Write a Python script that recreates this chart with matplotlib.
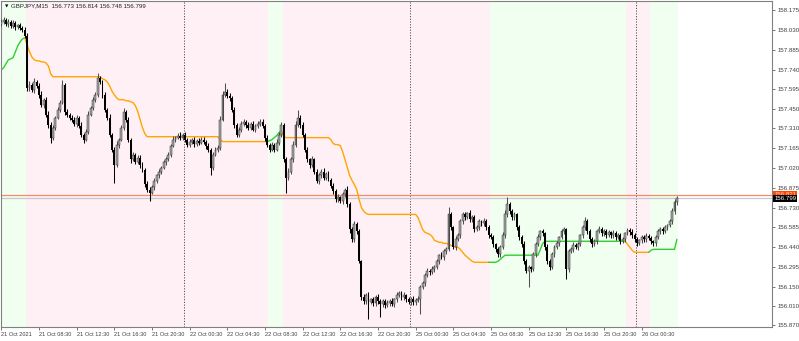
import numpy as np
import matplotlib.pyplot as plt
from matplotlib import transforms

# --- data (GBPJPY M15, 21 Oct 04:30 .. 26 Oct 04:15) ---
symbol = "GBPJPY,M15"
first_open = 158.075
closes = [
    158.090, 158.104, 158.075, 158.090, 158.060, 158.082, 158.053, 158.068, 158.046, 158.031,
    157.987, 157.607, 157.629, 157.593, 157.651, 157.622, 157.556, 157.483, 157.520, 157.410,
    157.337, 157.242, 157.315, 157.389, 157.447, 157.498, 157.629, 157.432, 157.410, 157.389,
    157.374, 157.345, 157.389, 157.330, 157.264, 157.228, 157.286, 157.410, 157.462, 157.520,
    157.556, 157.680, 157.651, 157.556, 157.447, 157.389, 157.264, 157.155, 157.045, 157.191,
    157.228, 157.315, 157.432, 157.374, 157.228, 157.082, 157.118, 157.067, 157.096, 157.045,
    157.008, 156.899, 156.862, 156.840, 156.877, 156.921, 156.965, 156.994, 157.023, 157.060,
    157.082, 157.118, 157.184, 157.228, 157.242, 157.257, 157.242, 157.264, 157.228, 157.191,
    157.213, 157.228, 157.199, 157.220, 157.206, 157.228, 157.213, 157.184, 157.155, 157.023,
    157.118, 157.155, 157.169, 157.374, 157.556, 157.578, 157.549, 157.534, 157.447, 157.337,
    157.264, 157.301, 157.345, 157.359, 157.337, 157.315, 157.345, 157.301, 157.330, 157.345,
    157.359, 157.330, 157.242, 157.191, 157.155, 157.191, 157.155, 157.206, 157.264, 157.337,
    157.082, 156.950, 156.994, 157.082, 157.191, 157.337, 157.389, 157.337, 157.264, 157.155,
    157.082, 157.045, 157.082, 156.994, 156.921, 156.965, 156.994, 156.950, 156.979, 156.935,
    156.891, 156.848, 156.789, 156.804, 156.775, 156.826, 156.862, 156.753, 156.570, 156.497,
    156.607, 156.555, 156.337, 156.074, 156.045, 156.088, 156.037, 156.059, 156.030, 156.074,
    156.045, 156.022, 156.045, 156.015, 156.030, 156.045, 156.022, 156.059, 156.088, 156.103,
    156.074, 156.088, 156.059, 156.037, 156.059, 156.037, 156.052, 156.059, 156.147, 156.176,
    156.235, 156.264, 156.257, 156.278, 156.293, 156.337, 156.381, 156.366, 156.410, 156.424,
    156.680, 156.585, 156.439, 156.497, 156.526, 156.629, 156.680, 156.658, 156.687, 156.643,
    156.658, 156.570, 156.585, 156.629, 156.614, 156.629, 156.585, 156.526, 156.512, 156.461,
    156.424, 156.388, 156.439, 156.526, 156.680, 156.753, 156.702, 156.658, 156.680, 156.585,
    156.512, 156.461, 156.337, 156.264, 156.293, 156.278, 156.388, 156.461, 156.512, 156.555,
    156.541, 156.439, 156.337, 156.293, 156.388, 156.439, 156.468, 156.512, 156.555, 156.570,
    156.278, 156.410, 156.424, 156.453, 156.439, 156.461, 156.526, 156.585, 156.629, 156.555,
    156.497, 156.461, 156.483, 156.555, 156.570, 156.541, 156.555, 156.526, 156.548, 156.526,
    156.541, 156.512, 156.526, 156.483, 156.497, 156.541, 156.563, 156.548, 156.526, 156.497,
    156.468, 156.490, 156.512, 156.497, 156.519, 156.505, 156.483, 156.468, 156.512, 156.555,
    156.570, 156.555, 156.585, 156.600, 156.629, 156.702, 156.773, 156.799,
]
# wick lengths in points (0.001) above / below the body
up_wick = [
    20, 25, 14, 18, 12, 22, 15, 10, 17, 12,
    18, 22, 30, 16, 25, 14, 20, 28, 12, 18,
    24, 16, 20, 12, 22, 18, 35, 14, 20, 12,
    16, 22, 18, 14, 25, 12, 20, 26, 15, 18,
    22, 37, 16, 12, 20, 14, 24, 10, 18, 26,
    14, 20, 28, 12, 18, 15, 22, 12, 20, 16,
    18, 12, 22, 16, 20, 25, 14, 18, 12, 20,
    16, 22, 12, 24, 15, 20, 28, 14, 18, 12,
    20, 14, 18, 12, 22, 16, 20, 12, 18, 14,
    22, 16, 20, 28, 30, 65, 24, 18, 12, 16,
    14, 20, 16, 22, 12, 18, 15, 22, 14, 20,
    16, 22, 12, 18, 14, 20, 12, 24, 20, 20,
    12, 18, 26, 20, 24, 30, 58, 22, 16, 12,
    18, 14, 24, 12, 20, 16, 22, 26, 14, 18,
    12, 20, 16, 22, 14, 18, 12, 24, 16, 20,
    25, 14, 18, 12, 22, 16, 20, 12, 18, 14,
    20, 12, 18, 14, 22, 16, 20, 12, 24, 18,
    14, 20, 12, 18, 16, 22, 12, 20, 14, 18,
    12, 20, 16, 22, 14, 18, 12, 24, 16, 20,
    51, 18, 12, 22, 16, 20, 14, 18, 12, 22,
    14, 20, 16, 18, 12, 22, 14, 18, 16, 20,
    12, 18, 14, 22, 30, 51, 20, 14, 18, 12,
    20, 16, 22, 14, 18, 12, 20, 16, 22, 14,
    18, 12, 22, 16, 20, 14, 18, 12, 20, 16,
    12, 20, 14, 22, 16, 18, 12, 20, 30, 14,
    20, 16, 18, 12, 22, 14, 20, 16, 18, 12,
    22, 14, 18, 16, 20, 12, 18, 14, 22, 16,
    18, 12, 20, 16, 22, 14, 18, 12, 20, 16,
    14, 20, 16, 12, 18, 22, 20, 15,
]
dn_wick = [
    15, 18, 12, 20, 14, 16, 22, 12, 18, 14,
    16, 20, 25, 18, 22, 16, 20, 14, 25, 18,
    22, 40, 16, 20, 14, 18, 12, 22, 16, 20,
    18, 14, 22, 16, 20, 25, 14, 18, 12, 16,
    20, 14, 18, 22, 16, 20, 14, 18, 133, 16,
    22, 14, 18, 16, 20, 24, 14, 20, 16, 22,
    18, 22, 16, 65, 14, 18, 12, 16, 20, 14,
    16, 12, 18, 14, 16, 12, 18, 14, 20, 16,
    14, 18, 22, 16, 20, 14, 18, 22, 16, 51,
    18, 14, 20, 16, 12, 18, 14, 20, 16, 22,
    18, 14, 20, 16, 22, 14, 18, 12, 20, 16,
    14, 18, 22, 16, 20, 14, 18, 12, 16, 20,
    22, 110, 18, 20, 16, 14, 18, 22, 16, 20,
    18, 22, 16, 20, 14, 18, 22, 16, 20, 14,
    18, 22, 16, 20, 14, 18, 16, 22, 24, 20,
    18, 22, 16, 20, 25, 18, 120, 16, 22, 18,
    20, 95, 18, 22, 16, 20, 14, 22, 18, 16,
    20, 18, 22, 16, 20, 18, 22, 16, 110, 14,
    18, 14, 20, 16, 18, 14, 20, 16, 22, 18,
    14, 20, 16, 18, 14, 22, 16, 20, 14, 18,
    16, 20, 14, 18, 22, 16, 20, 18, 14, 20,
    16, 22, 18, 14, 20, 16, 18, 22, 16, 20,
    18, 22, 20, 16, 117, 20, 16, 18, 14, 20,
    16, 22, 20, 18, 16, 20, 14, 18, 16, 20,
    73, 18, 14, 20, 16, 22, 14, 18, 16, 20,
    18, 22, 16, 20, 14, 18, 16, 20, 14, 18,
    16, 20, 14, 18, 16, 20, 14, 18, 16, 20,
    18, 14, 20, 16, 18, 14, 20, 16, 18, 14,
    16, 20, 14, 18, 16, 20, 18, 25,
]
# trailing line of the indicator
line_vals = [
    157.739, 157.754, 157.783, 157.812, 157.819, 157.827, 157.870, 157.914, 157.943, 157.965,
    157.973, 157.922, 157.870, 157.834, 157.812, 157.805, 157.805, 157.797, 157.797, 157.790,
    157.768, 157.710, 157.688, 157.688, 157.688, 157.688, 157.688, 157.688, 157.688, 157.688,
    157.688, 157.688, 157.688, 157.688, 157.688, 157.688, 157.688, 157.688, 157.688, 157.688,
    157.688, 157.688, 157.688, 157.673, 157.666, 157.651, 157.622, 157.585, 157.556, 157.534,
    157.520, 157.520, 157.520, 157.512, 157.512, 157.505, 157.498, 157.476, 157.432, 157.374,
    157.315, 157.271, 157.249, 157.249, 157.249, 157.249, 157.249, 157.249, 157.249, 157.249,
    157.249, 157.249, 157.249, 157.249, 157.249, 157.249, 157.249, 157.249, 157.249, 157.249,
    157.249, 157.249, 157.249, 157.249, 157.249, 157.249, 157.249, 157.249, 157.249, 157.249,
    157.249, 157.249, 157.249, 157.228, 157.213, 157.213, 157.213, 157.213, 157.213, 157.213,
    157.213, 157.213, 157.213, 157.213, 157.213, 157.213, 157.213, 157.213, 157.213, 157.213,
    157.213, 157.213, 157.213, 157.213, 157.220, 157.228, 157.242, 157.257, 157.279, 157.293,
    157.249, 157.242, 157.242, 157.242, 157.242, 157.242, 157.242, 157.242, 157.242, 157.242,
    157.242, 157.242, 157.242, 157.242, 157.242, 157.242, 157.242, 157.242, 157.242, 157.242,
    157.228, 157.199, 157.191, 157.191, 157.184, 157.140, 157.082, 157.023, 156.965, 156.928,
    156.899, 156.862, 156.789, 156.731, 156.702, 156.687, 156.680, 156.680, 156.680, 156.680,
    156.680, 156.680, 156.680, 156.680, 156.680, 156.680, 156.680, 156.680, 156.680, 156.680,
    156.680, 156.680, 156.680, 156.680, 156.680, 156.680, 156.680, 156.658, 156.614, 156.570,
    156.548, 156.541, 156.534, 156.519, 156.490, 156.483, 156.475, 156.475, 156.468, 156.468,
    156.461, 156.453, 156.446, 156.439, 156.439, 156.424, 156.402, 156.381, 156.366, 156.351,
    156.337, 156.329, 156.329, 156.329, 156.329, 156.329, 156.329, 156.329, 156.329, 156.329,
    156.329, 156.337, 156.351, 156.366, 156.381, 156.381, 156.381, 156.381, 156.381, 156.381,
    156.381, 156.381, 156.381, 156.381, 156.381, 156.381, 156.381, 156.381, 156.381, 156.424,
    156.468, 156.483, 156.483, 156.483, 156.483, 156.483, 156.483, 156.483, 156.483, 156.483,
    156.483, 156.483, 156.483, 156.483, 156.483, 156.483, 156.483, 156.483, 156.483, 156.483,
    156.483, 156.483, 156.483, 156.483, 156.483, 156.483, 156.483, 156.483, 156.483, 156.483,
    156.483, 156.483, 156.483, 156.483, 156.483, 156.483, 156.461, 156.439, 156.417, 156.402,
    156.402, 156.402, 156.402, 156.402, 156.402, 156.402, 156.417, 156.424, 156.424, 156.424,
    156.424, 156.424, 156.424, 156.424, 156.424, 156.424, 156.424, 156.497,
]
up_ranges = [(0, 10), (114, 119), (208, 265), (276, 287)]   # bars where trend is up (green)
day_starts = [78, 174, 270]
bid = 156.799
ask = 156.821
header_ohlc = "156.773 156.814 156.748 156.799"

y_ticks = [158.175, 158.030, 157.885, 157.740, 157.595, 157.450, 157.310, 157.165, 157.020,
           156.875, 156.730, 156.585, 156.440, 156.295, 156.150, 156.010, 155.870]
x_tick_bars = [0, 16, 32, 48, 64, 80, 96, 112, 128, 144, 160, 176, 192, 208, 224, 240, 256, 272]
x_tick_labels = ["21 Oct 2021", "21 Oct 08:30", "21 Oct 12:30", "21 Oct 16:30", "21 Oct 20:30",
                 "22 Oct 00:30", "22 Oct 04:30", "22 Oct 08:30", "22 Oct 12:30", "22 Oct 16:30",
                 "22 Oct 20:30", "25 Oct 00:30", "25 Oct 04:30", "25 Oct 08:30", "25 Oct 12:30",
                 "25 Oct 16:30", "25 Oct 20:30", "26 Oct 00:30"]

# --- derived OHLC ---
c = np.array(closes)
o = np.array([first_open] + closes[:-1])
h = np.maximum(o, c) + np.array(up_wick) / 1000.0
l = np.minimum(o, c) - np.array(dn_wick) / 1000.0
n = len(c)
idx = np.arange(n)

is_up = np.zeros(n, dtype=bool)
for a, b in up_ranges:
    is_up[a:b + 1] = True

FONT = "Liberation Sans"
FS = 4.4

fig = plt.figure(figsize=(7.99, 3.41), dpi=100)
ax = fig.add_axes([1 / 799, 14 / 341, 771 / 799, 326 / 341])
ax.set_xlim(-0.1, 327.4)
ax.set_ylim(155.855, 158.243)

# background shading per trend run
start = 0
for i in range(1, n + 1):
    if i == n or is_up[i] != is_up[start]:
        col = "#f0fff0" if is_up[start] else "#fff0f5"
        ax.axvspan(start - 0.5, i - 0.5, color=col, lw=0, zorder=0)
        start = i

# day separators
for d in day_starts:
    ax.axvline(d - 0.5, color="#505050", lw=0.7, ls=(0, (1.2, 1.6)), zorder=1)

# bid / ask lines
ax.axhline(ask, color="#f58b6c", lw=0.9, zorder=1)
ax.axhline(bid, color="#c8c8c8", lw=0.9, zorder=1)

# indicator line, coloured by trend run
start = 0
for i in range(1, n + 1):
    if i == n or is_up[i] != is_up[start]:
        s = max(start - 1, 0)
        col = "#32cd32" if is_up[start] else "#ffa500"
        ax.plot(idx[s:i], line_vals[s:i], color=col, lw=1.0, zorder=2,
                solid_capstyle="round")
        start = i

# candles
bull = c >= o
wick_col = np.where(bull, "#505050", "#000000")
ax.vlines(idx, l, h, colors=wick_col, lw=0.75, zorder=3)
body_h = np.maximum(np.abs(c - o), 0.003)
ax.bar(idx[bull], body_h[bull], bottom=np.minimum(o, c)[bull], width=0.8,
       color="#a8a8a8", edgecolor="#303030", linewidth=0.35, zorder=4)
ax.bar(idx[~bull], body_h[~bull], bottom=np.minimum(o, c)[~bull], width=0.8,
       color="#000000", linewidth=0, zorder=4)

# axes styling
for sp in ax.spines.values():
    sp.set_color("#808080")
    sp.set_linewidth(0.8)
ax.yaxis.tick_right()
ax.set_yticks(y_ticks)
ax.set_yticklabels([f"{v:.3f}" for v in y_ticks], fontsize=FS, family=FONT)
ax.set_xticks(x_tick_bars)
ax.set_xticklabels(x_tick_labels, fontsize=FS - 0.3, family=FONT, ha="left")
ax.tick_params(axis="y", direction="out", length=2.5, width=0.5, colors="#404040", pad=1.5)
ax.tick_params(axis="x", direction="out", length=2, width=0.5, colors="#404040", pad=1.5)
for t in ax.get_xticklabels():
    t.set_horizontalalignment("left")

# price labels on the right scale
tr = transforms.blended_transform_factory(ax.transAxes, ax.transData)
ax.text(1.003, ask + 0.006, f"{ask:.3f}", transform=tr, fontsize=FS, family=FONT,
        color="#ffd0c0", va="center", ha="left",
        bbox=dict(boxstyle="square,pad=0.15", fc="#ff4500", ec="none"), clip_on=False)
ax.text(1.003, bid, f"{bid:.3f}", transform=tr, fontsize=FS, family=FONT,
        color="white", va="center", ha="left",
        bbox=dict(boxstyle="square,pad=0.15", fc="black", ec="none"), clip_on=False)

# header
fig.text(5 / 799, 1 - 6 / 341, "\u25bc", fontsize=3.2, family="DejaVu Sans", va="center")
fig.text(11 / 799, 1 - 6 / 341, f"{symbol}  {header_ohlc}", fontsize=FS, family=FONT,
         va="center", color="#202020")

fig.savefig("out.png", dpi=100, facecolor="white")
